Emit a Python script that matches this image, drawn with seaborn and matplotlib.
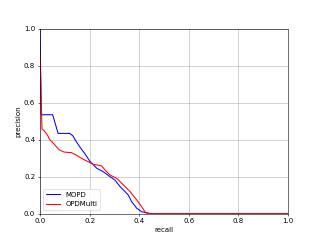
import pandas as pd
import matplotlib
matplotlib.use("Agg")
import matplotlib.pyplot as plt
import seaborn as sns

# precision / recall points
mopd_recall = [0.0, 0.005, 0.051, 0.073, 0.12, 0.133, 0.146, 0.16, 0.18, 0.2, 0.229,
               0.255, 0.282, 0.302, 0.323, 0.343, 0.356, 0.37, 0.39, 0.41, 0.43, 0.445, 1.0]
mopd_precision = [1.0, 0.535, 0.535, 0.434, 0.434, 0.42, 0.39, 0.362, 0.326, 0.285, 0.245,
                  0.227, 0.2, 0.182, 0.146, 0.119, 0.1, 0.064, 0.029, 0.01, 0.005, 0.0, 0.0]

opd_recall = [0.0, 0.008, 0.016, 0.03, 0.039, 0.052, 0.066, 0.079, 0.097, 0.126, 0.146,
              0.167, 0.194, 0.214, 0.231, 0.249, 0.262, 0.282, 0.309, 0.336, 0.363,
              0.39, 0.41, 0.423, 0.433, 1.0]
opd_precision = [0.88, 0.456, 0.45, 0.425, 0.40, 0.384, 0.362, 0.344, 0.333, 0.33, 0.317,
                 0.299, 0.281, 0.267, 0.263, 0.258, 0.236, 0.209, 0.191, 0.155, 0.119,
                 0.074, 0.037, 0.01, 0.0, 0.0]

mopd = pd.DataFrame({"recall": mopd_recall, "precision": mopd_precision})
opd = pd.DataFrame({"recall": opd_recall, "precision": opd_precision})

fig, ax = plt.subplots(figsize=(6.4, 4.8), dpi=50)
sns.lineplot(data=mopd, x="recall", y="precision", color="b", sort=False,
             estimator=None, label="MOPD", ax=ax, lw=1.5)
sns.lineplot(data=opd, x="recall", y="precision", color="r", sort=False,
             estimator=None, label="OPDMulti", ax=ax, lw=1.5)

ax.set_xlim(0, 1)
ax.set_ylim(0, 1)
ax.grid(True)
ax.legend(loc="lower left")
ax.set_xlabel("recall")
ax.set_ylabel("precision")

fig.savefig("out.png", dpi=50)
